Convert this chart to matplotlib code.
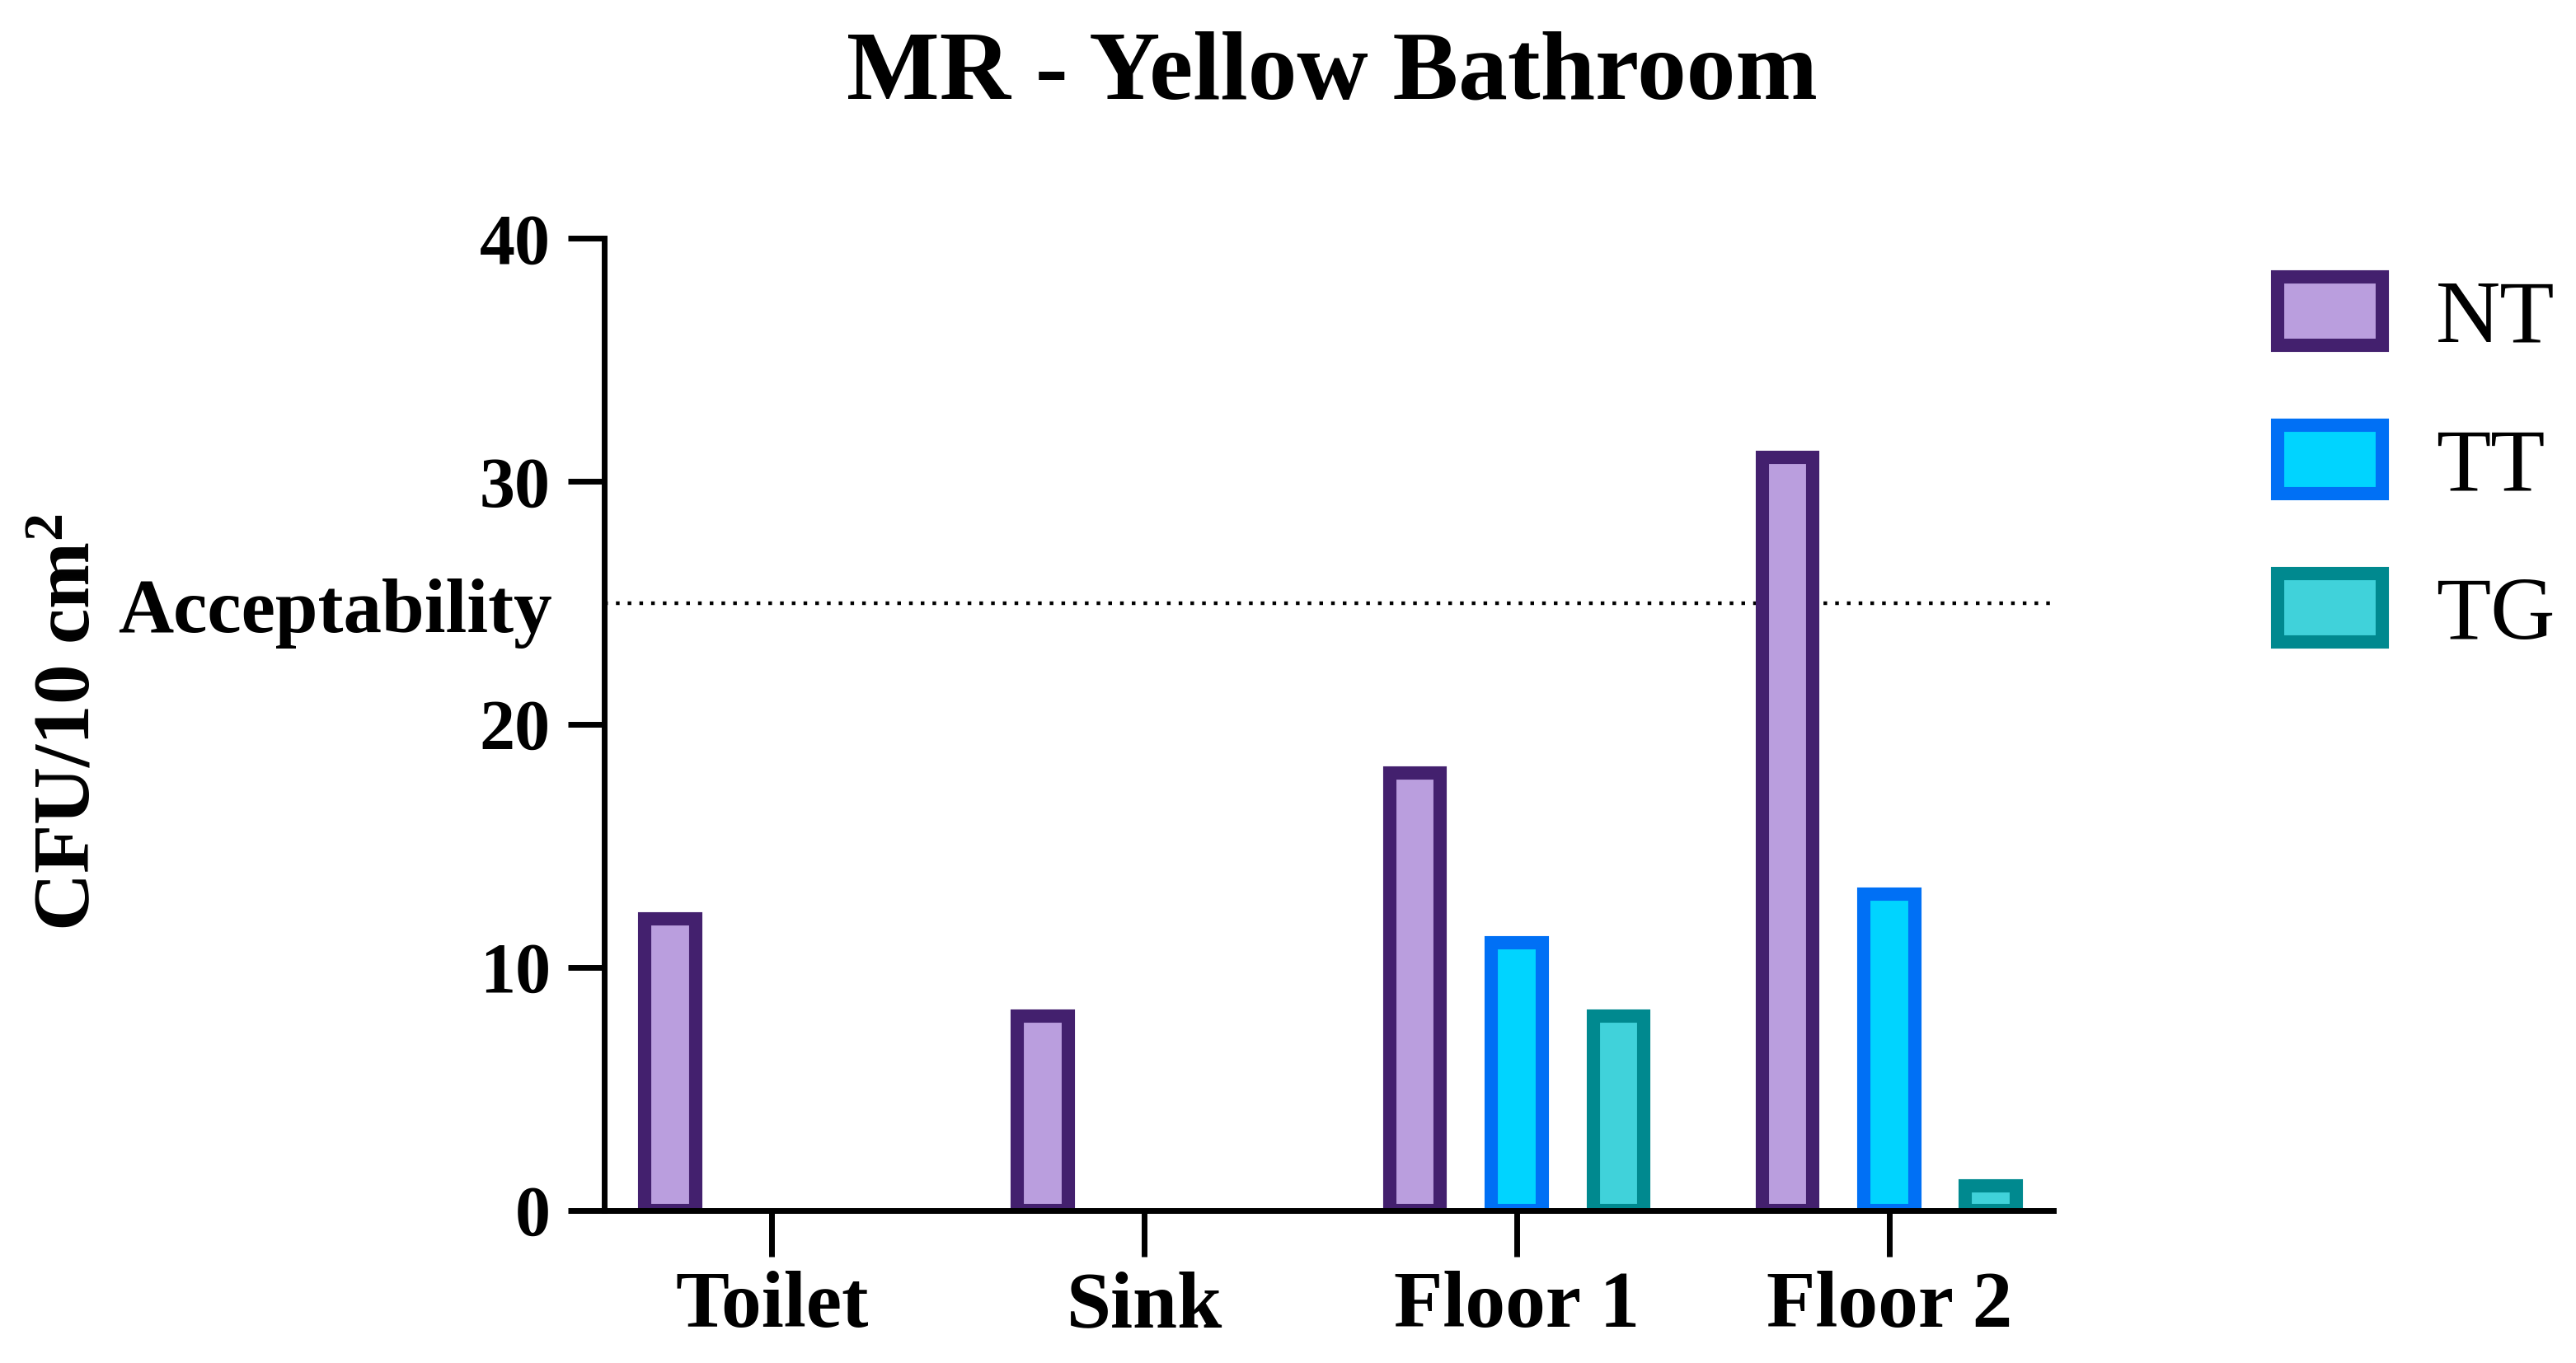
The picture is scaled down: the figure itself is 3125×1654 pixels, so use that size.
import matplotlib
matplotlib.use("Agg")
import matplotlib.pyplot as plt
import numpy as np

# data
categories = ["Toilet", "Sink", "Floor 1", "Floor 2"]
series_names = ["NT", "TT", "TG"]
nt_values = [12, 8, 18, 31]
tt_values = [0, 0, 11, 13]
tg_values = [0, 0, 8, 1]
acceptability = 25
y_ticks = [0, 10, 20, 30, 40]

fill_colors = ["#BA9EDE", "#00D4FF", "#40D2DA"]
edge_colors = ["#43206E", "#0070F5", "#00898F"]

plt.rcParams['font.family'] = ['Liberation Serif', 'DejaVu Serif']
plt.rcParams['mathtext.fontset'] = 'custom'
plt.rcParams['mathtext.rm'] = 'Liberation Serif:bold'
plt.rcParams['mathtext.bf'] = 'Liberation Serif:bold'
plt.rcParams['mathtext.default'] = 'bf'

fig = plt.figure(figsize=(15.625, 8.27), dpi=200)
ax = fig.add_axes([0.2346, 0.112, 0.797 - 0.2346, 0.825 - 0.112])

x = np.arange(len(categories))
offsets = [-0.273, 0, 0.273]
width = 0.136
all_values = [nt_values, tt_values, tg_values]

for i, vals in enumerate(all_values):
    lws = [5.8 if v > 0 else 0 for v in vals]
    ax.bar(x + offsets[i], vals, width, color=fill_colors[i],
           edgecolor=edge_colors[i], linewidth=lws, label=series_names[i],
           zorder=2)

# acceptability line
ax.axhline(acceptability, color='black', linestyle=(0, (1, 2.2)), linewidth=1.6, zorder=1)
ax.text(-0.036, 23.8, "Acceptability", transform=ax.get_yaxis_transform(),
        ha='right', va='baseline', fontsize=33.5, fontweight='bold')

ax.set_xlim(-0.45, 3.44)
ax.set_ylim(0, 40)
ax.set_yticks(y_ticks)
ax.set_xticks(x)
ax.set_xticklabels(categories, fontsize=35, fontweight='bold')
for lab in ax.get_yticklabels():
    lab.set_fontsize(31)
    lab.set_fontweight('bold')

ax.spines['top'].set_visible(False)
ax.spines['right'].set_visible(False)
ax.spines['left'].set_linewidth(2.5)
ax.spines['bottom'].set_linewidth(2.5)
ax.spines['left'].set_zorder(3)
ax.spines['bottom'].set_zorder(3)
ax.tick_params(axis='y', length=16, width=2.5, pad=7.5)
ax.tick_params(axis='x', length=20, width=2.5, pad=6.5)

fig.text(0.027, 0.47, "CFU/10 cm$^2$", rotation=90, ha='center', va='center',
         fontsize=35, fontweight='bold')
fig.text(0.517, 0.928, "MR - Yellow Bathroom", ha='center', va='baseline',
         fontsize=43, fontweight='bold')

handles, labels = ax.get_legend_handles_labels()
leg = fig.legend(handles, labels, loc='upper left', bbox_to_anchor=(0.884, 0.797),
                 frameon=False, fontsize=39, borderpad=0, borderaxespad=0,
                 handlelength=1.18, handleheight=0.8, handletextpad=0.6,
                 labelspacing=0.72)
for p in leg.get_patches():
    p.set_linewidth(5.8)

fig.savefig("out.png", dpi=200)
